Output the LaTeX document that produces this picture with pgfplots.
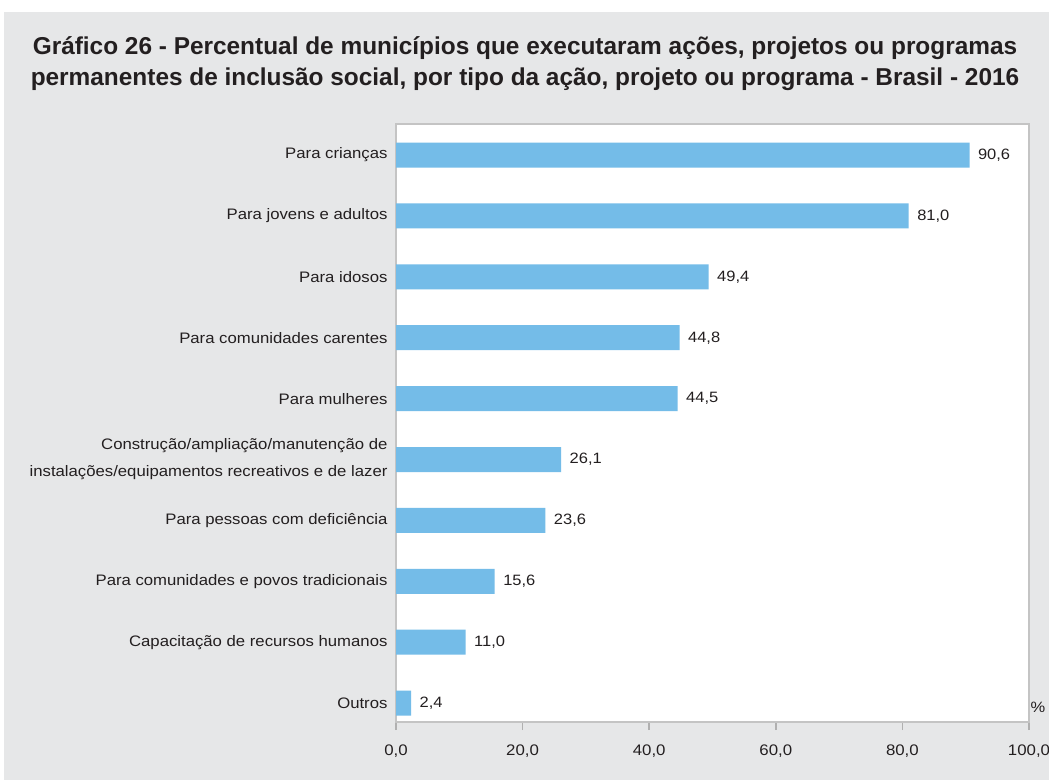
\documentclass[border=0pt]{standalone}
\usepackage{pgfplots}
\pgfplotsset{compat=1.18}
\usepackage{fontspec}
\setmainfont{Liberation Sans}
\newfontfamily\widefont[FakeStretch=1.1]{Liberation Sans}
\definecolor{bgGray}{HTML}{E6E7E8}
\definecolor{barBlue}{HTML}{74BCE8}
\definecolor{frameGray}{HTML}{C4C4C4}
\definecolor{tickGray}{HTML}{B0B0B0}
\definecolor{txt}{HTML}{231F20}
\begin{document}
\begin{tikzpicture}[x=1pt,y=1pt]
\path[use as bounding box] (0,0) rectangle (1049,780);
\fill[white] (0,0) rectangle (1049,780);
\fill[bgGray] (4,0) rectangle (1049,768);
\node[font=\bfseries\fontsize{24.4}{31}\selectfont, align=center, text=txt] at (525,716.5)
  {Gráfico 26 - Percentual de municípios que executaram ações, projetos ou programas\\
   permanentes de inclusão social, por tipo da ação, projeto ou programa - Brasil - 2016};
\begin{axis}[
  at={(396pt,58pt)}, anchor=south west,
  scale only axis, width=633pt, height=598pt,
  xbar, bar width=25pt,
  xmin=0, xmax=100, ymin=-0.31, ymax=9.51,
  axis background/.style={fill=white},
  axis line style={frameGray, line width=1.5pt},
  xtick={0,20,40,60,80,100},
  ytick={0,1,2,3,4,5,6,7,8,9},
  yticklabels={Outros,Capacitação de recursos humanos,Para comunidades e povos tradicionais,Para pessoas com deficiência,{Construção/ampliação/manutenção de\\instalações/equipamentos recreativos e de lazer},Para mulheres,Para comunidades carentes,Para idosos,Para jovens e adultos,Para crianças},
  ytick style={draw=none},
  xtick style={draw=tickGray, line width=1.5pt},
  x tick label style={text=txt, font=\widefont\fontsize{15.3}{18}\selectfont, yshift=-11pt},
  y tick label style={text=txt, font=\widefont\fontsize{15.2}{27}\selectfont, align=right, xshift=3pt},
  tick align=outside, major tick length=8pt,
  xtick pos=bottom, ytick pos=left,
  /pgf/number format/.cd, fixed, fixed zerofill, precision=1, use comma, assume math mode=true,
  /pgfplots/.cd,
  nodes near coords,
  nodes near coords style={text=txt, font=\widefont\fontsize{15}{18}\selectfont, xshift=5pt},
]
\addplot[fill=barBlue, draw=none] coordinates {
  (2.4,0) (11.0,1) (15.6,2) (23.6,3) (26.1,4) (44.5,5) (44.8,6) (49.4,7) (81.0,8) (90.6,9)
};
\end{axis}
\node[font=\widefont\fontsize{15}{18}\selectfont, text=txt] at (1038,73) {\%};
\end{tikzpicture}
\end{document}
